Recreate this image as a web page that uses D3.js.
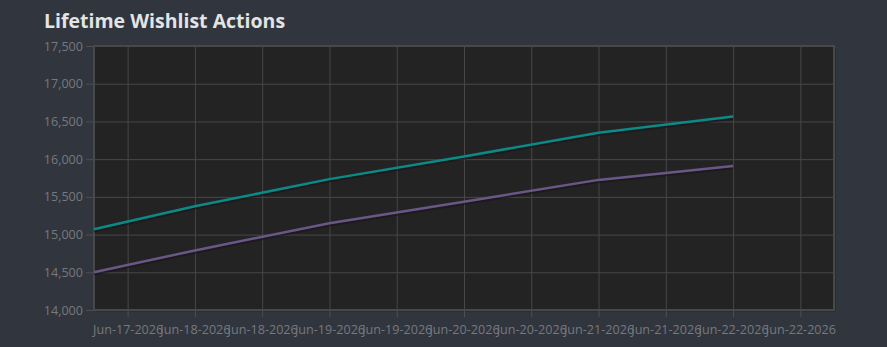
<!DOCTYPE html>
<html>
<head>
<meta charset="utf-8">
<script src="https://cdn.jsdelivr.net/npm/d3@7"></script>
<style>
    html, body { margin: 0; padding: 0; background: #31353d; }
    #chart { width: 887px; height: 347px; }
    svg { display: block; }
</style>
</head>
<body>
<div id="chart"></div>
<script>
(function () {
    'use strict';

    // Daily snapshots
    const dates = ['2026-06-17T06:00', '2026-06-18T00:00', '2026-06-19T00:00', '2026-06-20T00:00',
        '2026-06-21T00:00', '2026-06-22T00:00'];
    const tealValues = [15070, 15375, 15735, 16035, 16350, 16565];
    const purpleValues = [14500, 14790, 15150, 15435, 15725, 15910];
    const seriesColors = ['#0b8a87', '#6b5787'];
    const yTicks = [14000, 14500, 15000, 15500, 16000, 16500, 17000, 17500];
    const xDomain = ['2026-06-17T06:00', '2026-06-22T18:00'];

    const parse = d3.timeParse('%Y-%m-%dT%H:%M');
    const series = [tealValues, purpleValues].map((vals, i) => ({
        color: seriesColors[i],
        pts: vals.map((v, j) => ({date: parse(dates[j]), value: v}))
    }));

    const W = 887, H = 347;
    const margin = {top: 46, right: 53, bottom: 37, left: 94};
    const cW = W - margin.left - margin.right;
    const cH = H - margin.top - margin.bottom;

    const svg = d3.select('#chart').append('svg').attr('width', W).attr('height', H);

    svg.append('text')
        .attr('x', 44).attr('y', 28)
        .attr('font-family', '"Open Sans", sans-serif')
        .attr('font-size', '19.5px').attr('font-weight', 700)
        .attr('fill', '#e2e4e6')
        .text('Lifetime Wishlist Actions');

    const g = svg.append('g').attr('transform', `translate(${margin.left},${margin.top})`);

    const xScale = d3.scaleTime().domain(xDomain.map(parse)).range([0, cW]);
    const yScale = d3.scaleLinear().domain([yTicks[0], yTicks[yTicks.length - 1]]).range([cH, 0]);
    const xTicks = d3.timeHour.every(12).range(xScale.domain()[0], xScale.domain()[1]);

    // plot background + shadow
    g.append('rect').attr('x', 2).attr('y', 2).attr('width', cW).attr('height', cH)
        .attr('fill', '#2a2d32');
    g.append('rect').attr('width', cW).attr('height', cH).attr('fill', '#232323');

    // grid
    g.append('g')
        .call(d3.axisLeft(yScale).tickValues(yTicks).tickSize(-cW).tickFormat(''))
        .call(gg => {
            gg.selectAll('line').attr('stroke', '#474747');
            gg.select('.domain').remove();
        });
    g.append('g').attr('transform', `translate(0,${cH})`)
        .call(d3.axisBottom(xScale).tickValues(xTicks).tickSize(-cH).tickFormat(''))
        .call(gg => {
            gg.selectAll('line').attr('stroke', '#474747');
            gg.select('.domain').remove();
        });

    // axes
    const fmtTime = d3.timeFormat('%b-%d-%Y');
    g.append('g').attr('transform', `translate(0,${cH})`)
        .call(d3.axisBottom(xScale).tickValues(xTicks).tickSize(7).tickPadding(8).tickFormat(fmtTime))
        .call(gg => {
            gg.select('.domain').remove();
            gg.selectAll('line').attr('stroke', '#4c4f55');
            gg.selectAll('text').attr('fill', '#76797e')
                .attr('font-family', '"Open Sans", sans-serif').attr('font-size', '12.6px');
        });
    g.append('g')
        .call(d3.axisLeft(yScale).tickValues(yTicks).tickSize(8).tickPadding(3).tickFormat(d3.format(',')))
        .call(gg => {
            gg.select('.domain').remove();
            gg.selectAll('line').attr('stroke', '#4c4f55');
            gg.selectAll('text').attr('fill', '#76797e')
                .attr('font-family', '"Open Sans", sans-serif').attr('font-size', '12.6px');
        });

    // border
    g.append('rect').attr('width', cW).attr('height', cH)
        .attr('fill', 'none').attr('stroke', '#484848').attr('stroke-width', 2);

    const line = d3.line().x(d => xScale(d.date)).y(d => yScale(d.value));

    series.forEach(s => {
        g.append('path').datum(s.pts)
            .attr('d', line).attr('fill', 'none')
            .attr('stroke', '#151515').attr('stroke-opacity', 0.6).attr('stroke-width', 2.5)
            .attr('transform', 'translate(0,2)');
        g.append('path').datum(s.pts)
            .attr('d', line).attr('fill', 'none')
            .attr('stroke', s.color).attr('stroke-width', 2.5);
    });
})();
</script>
</body>
</html>
